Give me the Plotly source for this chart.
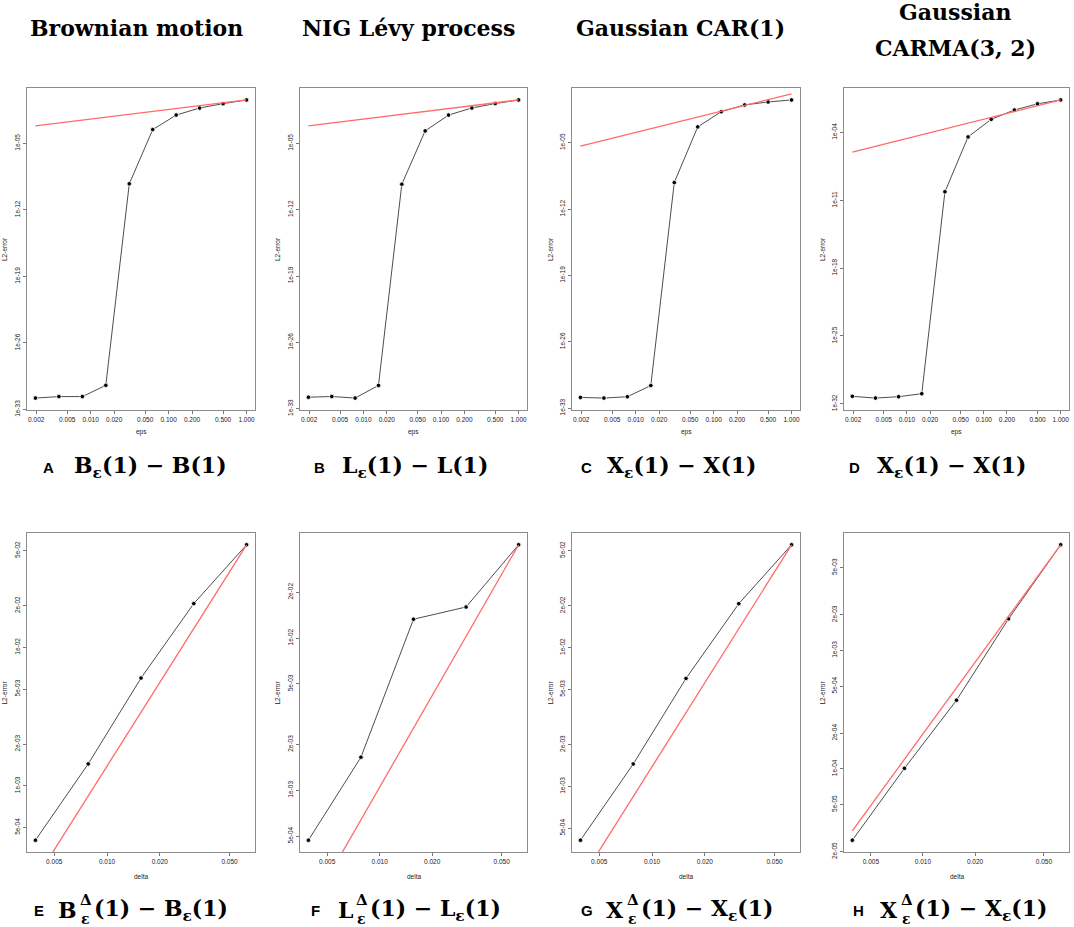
import numpy as np
import plotly.graph_objects as go

W, H = 1074, 927

# step sizes
eps = [0.001953125, 0.00390625, 0.0078125, 0.015625, 0.03125,
       0.0625, 0.125, 0.25, 0.5, 1.0]
delta = [0.00390625, 0.0078125, 0.015625, 0.03125, 0.0625]

# top row: L2-error against eps
err_bm = [1.6e-32, 2.3e-32, 2.3e-32, 3.5e-31, 5.5e-10, 2.8e-4, 9.5e-3, 5.2e-2, 0.15, 0.37]
err_nig = [1.6e-32, 1.9e-32, 1.3e-32, 2.8e-31, 4.9e-10, 2.1e-4, 9.8e-3, 5.5e-2, 0.16, 0.39]
err_car = [1.35e-32, 1.15e-32, 1.6e-32, 2.4e-31, 6.3e-10, 4.7e-4, 1.9e-2, 9.8e-2, 0.20, 0.33]
err_carma = [5.9e-32, 3.9e-32, 5.4e-32, 1.1e-31, 7.6e-11, 3.5e-5, 2.3e-3, 2.1e-2, 9.1e-2, 0.23]

# red reference lines, value at the smallest and at the largest step
ref_eps = [0.001953125, 1.0]
ref_bm = [6.9e-4, 0.37]
ref_nig = [7.1e-4, 0.39]
ref_car = [4.4e-6, 1.45]
ref_carma = [9.5e-7, 0.23]

# bottom row: L2-error against delta
err_bm_d = [4.05e-4, 1.44e-3, 6.0e-3, 2.07e-2, 5.5e-2]
err_nig_d = [4.7e-4, 1.65e-3, 1.33e-2, 1.6e-2, 4.1e-2]
err_car_d = [4.1e-4, 1.45e-3, 6.0e-3, 2.07e-2, 5.5e-2]
err_carma_d = [2.5e-5, 1.01e-4, 3.8e-4, 1.85e-3, 7.8e-3]

ref_delta = [0.00390625, 0.0625]
ref_bm_d = [2.1e-4, 5.5e-2]
ref_nig_d = [1.6e-4, 4.1e-2]
ref_car_d = [2.1e-4, 5.5e-2]
ref_carma_d = [3.0e-5, 7.8e-3]

# tick labels
eps_ticks = ["0.002", "0.005", "0.010", "0.020", "0.050", "0.100", "0.200", "0.500", "1.000"]
delta_ticks = ["0.005", "0.010", "0.020", "0.050"]
y_top = ["1e-33", "1e-26", "1e-19", "1e-12", "1e-05"]
y_top_d = ["1e-32", "1e-25", "1e-18", "1e-11", "1e-04"]
y_e = ["5e-04", "1e-03", "2e-03", "5e-03", "1e-02", "2e-02", "5e-02"]
y_f = ["5e-04", "1e-03", "2e-03", "5e-03", "1e-02", "2e-02"]
y_h = ["2e-05", "5e-05", "1e-04", "2e-04", "5e-04", "1e-03", "2e-03", "5e-03"]

titles = [["Brownian motion"], ["NIG Lévy process"], ["Gaussian CAR(1)"],
          ["Gaussian", "CARMA(3, 2)"]]
letters = ["A", "B", "C", "D", "E", "F", "G", "H"]
top_caps = ["B<sub>ε</sub>(1) − B(1)", "L<sub>ε</sub>(1) − L(1)",
            "X<sub>ε</sub>(1) − X(1)", "X<sub>ε</sub>(1) − X(1)"]
bot_sym = ["B", "L", "X", "X"]

# panel boxes in pixels: left, right, top, bottom
cols = [(27, 255), (300, 527), (572, 800), (844, 1069)]
rows = [(88, 410), (533, 852)]
ylab_x = [4, 277, 550, 822]

panels = [
    (eps, err_bm, ref_eps, ref_bm, eps_ticks, y_top, "eps"),
    (eps, err_nig, ref_eps, ref_nig, eps_ticks, y_top, "eps"),
    (eps, err_car, ref_eps, ref_car, eps_ticks, y_top, "eps"),
    (eps, err_carma, ref_eps, ref_carma, eps_ticks, y_top_d, "eps"),
    (delta, err_bm_d, ref_delta, ref_bm_d, delta_ticks, y_e, "delta"),
    (delta, err_nig_d, ref_delta, ref_nig_d, delta_ticks, y_f, "delta"),
    (delta, err_car_d, ref_delta, ref_car_d, delta_ticks, y_e, "delta"),
    (delta, err_carma_d, ref_delta, ref_carma_d, delta_ticks, y_h, "delta"),
]


def px(x):
    return x / W


def py(y):
    return 1 - y / H


def r_range(v):
    # R style 4% padding on a log axis
    lo, hi = np.log10(min(v)), np.log10(max(v))
    pad = 0.04 * (hi - lo)
    return [lo - pad, hi + pad]


fig = go.Figure()
layout = {}
ann = []
tick_font = dict(size=6.5, family="Liberation Sans", color="#222222")
small = dict(size=6.5, family="Liberation Sans", color="#222222")

for i, (xs, ys, rx, ry, xt, yt, xlab) in enumerate(panels):
    n = i + 1
    sfx = "" if n == 1 else str(n)
    col = cols[i % 4]
    row = rows[i // 4]

    fig.add_trace(go.Scatter(
        x=xs, y=ys, mode="lines+markers", xaxis="x" + sfx, yaxis="y" + sfx,
        line=dict(color="#4d4d4d", width=1),
        marker=dict(color="black", size=4.5, line=dict(color="white", width=0.8)),
        showlegend=False))
    fig.add_trace(go.Scatter(
        x=rx, y=ry, mode="lines", xaxis="x" + sfx, yaxis="y" + sfx,
        line=dict(color="#ff6b6b", width=1.3), showlegend=False))

    common = dict(type="log", showline=True, mirror=True, linecolor="#8c8c8c",
                  linewidth=1, ticks="outside", ticklen=3, tickcolor="#777777",
                  tickfont=tick_font, showgrid=False, zeroline=False,
                  automargin=False)
    layout["xaxis" + sfx] = dict(
        common, domain=[px(col[0]), px(col[1])], anchor="y" + sfx,
        range=r_range(xs), tickvals=[float(t) for t in xt], ticktext=xt)
    layout["yaxis" + sfx] = dict(
        common, domain=[py(row[1]), py(row[0])], anchor="x" + sfx,
        range=r_range(ys), tickvals=[float(t) for t in yt], ticktext=yt,
        tickangle=-90)

    cx = (col[0] + col[1]) / 2
    ann.append(dict(x=px(cx), y=py(row[1] + 22 if i < 4 else row[1] + 24),
                    text=xlab, font=small))
    ann.append(dict(x=px(ylab_x[i % 4]), y=py((row[0] + row[1]) / 2),
                    text="L2-error", textangle=-90, font=small))

# column titles
title_x = [136, 408, 680, 955]
for j, lines in enumerate(titles):
    ys_t = [28] if len(lines) == 1 else [12, 48]
    for t, yt_ in zip(lines, ys_t):
        ann.append(dict(x=px(title_x[j]), y=py(yt_), text="<b>%s</b>" % t,
                        font=dict(size=22, family="DejaVu Serif", color="black")))

cap_font = dict(size=22, family="DejaVu Serif", color="black")
let_font = dict(size=15, family="Liberation Sans", color="black")

# captions, top row
cap_letter_x = [41, 312, 579, 847]
cap_math_x = [72, 340, 605, 875]
for j in range(4):
    ann.append(dict(x=px(cap_letter_x[j]), y=py(467), text="<b>%s</b>" % letters[j],
                    xanchor="left", font=let_font))
    ann.append(dict(x=px(cap_math_x[j]), y=py(467), text="<b>%s</b>" % top_caps[j],
                    xanchor="left", font=cap_font))

# captions, bottom row: symbol with stacked Delta / epsilon
bot_letter_x = [32, 309, 579, 851]
split_x = [79, 355, 626, 900]
for j in range(4):
    yb = 910
    ann.append(dict(x=px(bot_letter_x[j]), y=py(yb), text="<b>%s</b>" % letters[4 + j],
                    xanchor="left", font=let_font))
    ann.append(dict(x=px(split_x[j]), y=py(yb), text="<b>%s</b>" % bot_sym[j],
                    xanchor="right", font=cap_font))
    ann.append(dict(x=px(split_x[j] - 1), y=py(yb - 10), text="<b>Δ</b>",
                    xanchor="left", font=dict(size=15, family="DejaVu Serif", color="black")))
    ann.append(dict(x=px(split_x[j]), y=py(yb + 9), text="<b>ε</b>",
                    xanchor="left", font=dict(size=14, family="DejaVu Serif", color="black")))
    ann.append(dict(x=px(split_x[j] + 13), y=py(yb),
                    text="<b>(1) − %s<sub>ε</sub>(1)</b>" % bot_sym[j],
                    xanchor="left", font=cap_font))

for a in ann:
    a.setdefault("xref", "paper")
    a.setdefault("yref", "paper")
    a.setdefault("showarrow", False)
    a.setdefault("xanchor", "center")
    a.setdefault("yanchor", "middle")

fig.update_layout(
    width=W, height=H, margin=dict(l=0, r=0, t=0, b=0),
    paper_bgcolor="white", plot_bgcolor="white",
    annotations=ann, **layout)

# the page body has a default 8px margin; drop it so the figure sits at 0,0
fig.write_html("out.html", config={"displayModeBar": False},
               post_script="document.body.style.margin='0px';")
